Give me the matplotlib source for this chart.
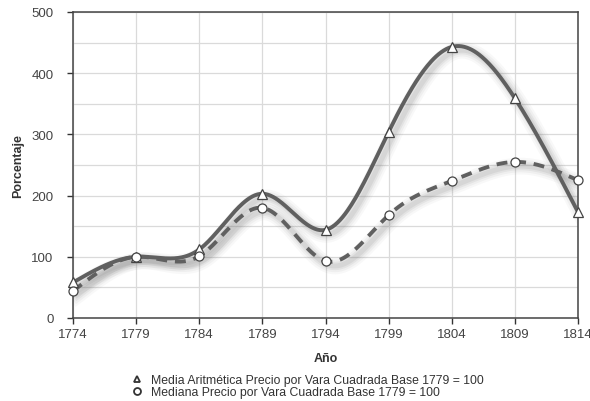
import matplotlib
matplotlib.use('Agg')
import matplotlib.pyplot as plt
import matplotlib.patheffects as pe
from matplotlib.lines import Line2D
import numpy as np

plt.rcParams['font.family'] = ['Liberation Sans', 'DejaVu Sans']

# values
years = [1774, 1779, 1784, 1789, 1794, 1799, 1804, 1809, 1814]
media = [58, 100, 112, 203, 144, 304, 443, 359, 173]
mediana = [44, 100, 101, 180, 93, 168, 224, 255, 225]

label_media = 'Media Aritmética Precio por Vara Cuadrada Base 1779 = 100'
label_mediana = 'Mediana Precio por Vara Cuadrada Base 1779 = 100'


# natural cubic spline, only used to draw a smooth line through the points
def smooth(x, y, n=400):
	x = np.asarray(x, float)
	y = np.asarray(y, float)
	k = len(x)
	h = np.diff(x)
	A = np.zeros((k, k))
	b = np.zeros(k)
	A[0, 0] = 1
	A[-1, -1] = 1
	for i in range(1, k - 1):
		A[i, i - 1] = h[i - 1]
		A[i, i] = 2 * (h[i - 1] + h[i])
		A[i, i + 1] = h[i]
		b[i] = 6 * ((y[i + 1] - y[i]) / h[i] - (y[i] - y[i - 1]) / h[i - 1])
	M = np.linalg.solve(A, b)
	xs = np.linspace(x[0], x[-1], n)
	idx = np.clip(np.searchsorted(x, xs) - 1, 0, k - 2)
	x0, x1 = x[idx], x[idx + 1]
	hh = x1 - x0
	t0 = x1 - xs
	t1 = xs - x0
	ys = (M[idx] * t0 ** 3 + M[idx + 1] * t1 ** 3) / (6 * hh) \
		+ (y[idx] / hh - M[idx] * hh / 6) * t0 \
		+ (y[idx + 1] / hh - M[idx + 1] * hh / 6) * t1
	return xs, ys


fig = plt.figure(figsize=(5.9, 4.02), dpi=100)
ax = fig.add_axes([0.1237, 0.2065, 0.856, 0.7612])

line_col = '#606060'
# fake a soft blurred drop shadow with a few widening layers
shadow = [pe.SimpleLineShadow(offset=(3, -3), shadow_color='#7a7a7a', alpha=a, linewidth=w)
	for w, a in [(12, 0.05), (9, 0.07), (6, 0.1), (3.5, 0.12)]]

for vals, dashed in [(media, False), (mediana, True)]:
	xs, ys = smooth(years, vals)
	# solid shadow under both curves, the blur hides the dashes in the reference
	ax.plot(xs, ys, color=line_col, lw=2.8, path_effects=shadow, zorder=2)
	if dashed:
		ax.plot(xs, ys, color=line_col, lw=2.8, dashes=(2.8, 2.0), zorder=3)
	else:
		ax.plot(xs, ys, color=line_col, lw=2.8, solid_capstyle='round', zorder=3)

ax.plot(years, media, ls='none', marker='^', ms=6.5, mfc='white', mec='#444444', mew=0.9, zorder=4, clip_on=False)
ax.plot(years, mediana, ls='none', marker='o', ms=6.5, mfc='white', mec='#444444', mew=0.9, zorder=4, clip_on=False)

ax.set_xlim(1774, 1814)
ax.set_ylim(0, 500)
ax.set_xticks(years)
ax.set_yticks(range(0, 501, 100))
ax.set_yticks(range(50, 500, 100), minor=True)
ax.grid(True, which='both', color='#dadada', lw=0.9, zorder=0)
ax.set_axisbelow(True)
ax.tick_params(axis='both', colors='#333333', labelcolor='#444444', labelsize=9.5, length=4, width=1)
ax.tick_params(axis='y', which='minor', length=0)
ax.tick_params(axis='y', pad=10)
for s in ax.spines.values():
	s.set_color('#444444')
	s.set_linewidth(1.1)

ax.set_xlabel('Año', fontsize=9, fontweight='bold', color='#333333', labelpad=8)
ax.set_ylabel('Porcentaje', fontsize=9, fontweight='bold', color='#333333', labelpad=5)

handles = [
	Line2D([], [], ls='none', marker='^', ms=5, mfc='white', mec='#333333', mew=1.3),
	Line2D([], [], ls='none', marker='o', ms=5, mfc='white', mec='#333333', mew=1.3),
]
fig.legend(handles, [label_media, label_mediana], loc='center', bbox_to_anchor=(0.521, 0.037),
	frameon=False, fontsize=8.8, handlelength=1, handletextpad=0.7, labelspacing=0.0, labelcolor='#333333')

fig.savefig('out.png', dpi=100)
